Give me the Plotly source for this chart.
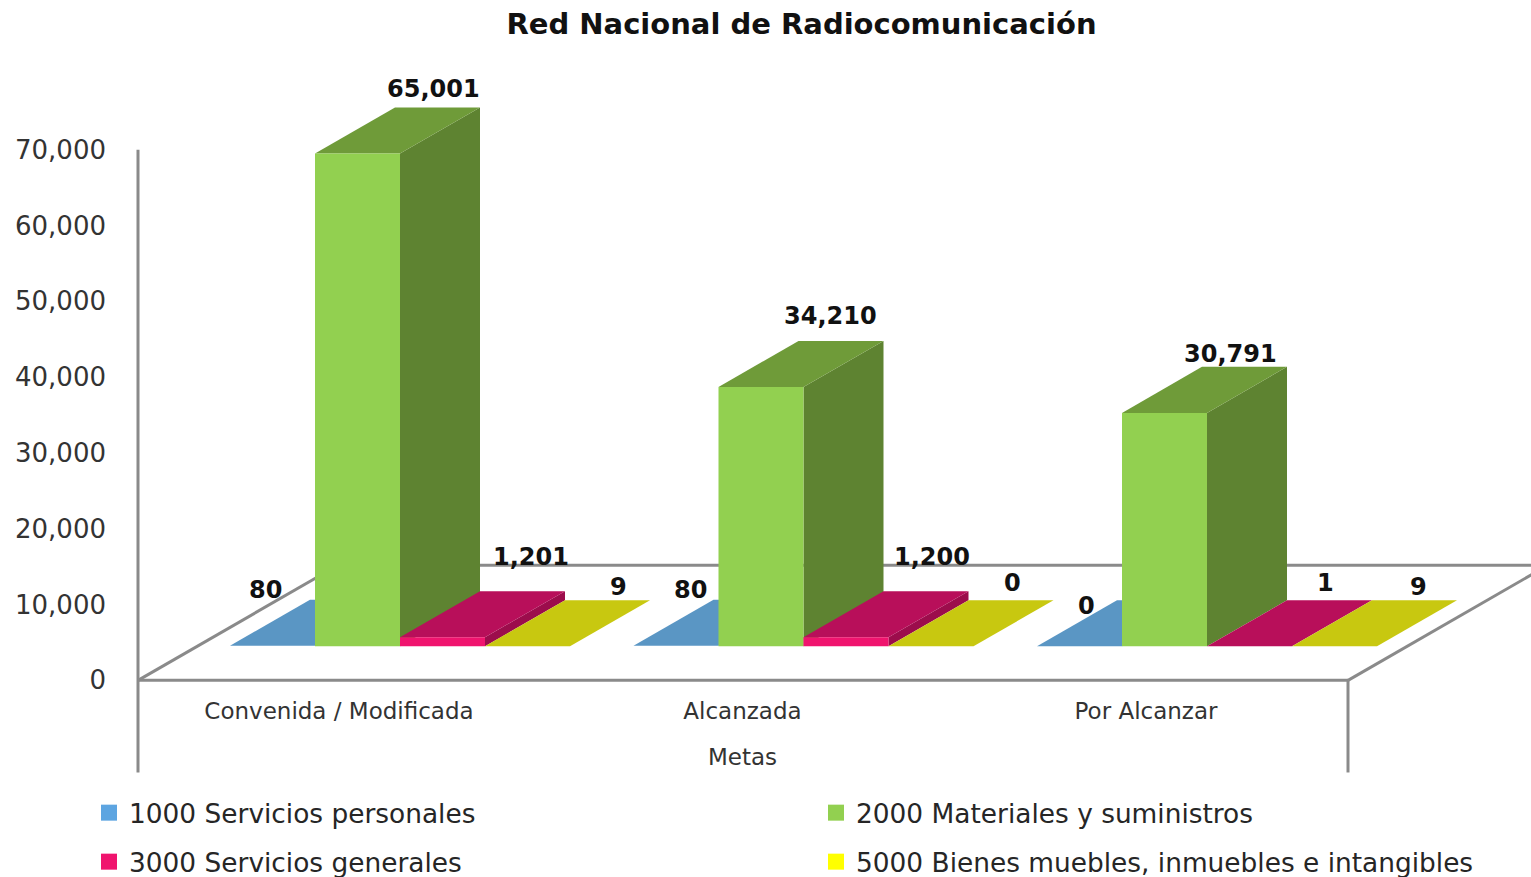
import plotly.graph_objects as go

# ---- data ----
categories = ["Convenida / Modificada", "Alcanzada", "Por Alcanzar"]
series_names = ["1000 Servicios personales", "2000 Materiales y suministros",
                "3000 Servicios generales", "5000 Bienes muebles, inmuebles e intangibles"]
servicios_personales = [80, 80, 0]
materiales = [65001, 34210, 30791]
servicios_generales = [1201, 1200, 1]
bienes_muebles = [9, 0, 9]
y_ticks = [0, 10000, 20000, 30000, 40000, 50000, 60000, 70000]

all_values = [servicios_personales, materiales, servicios_generales, bienes_muebles]

# ---- style ----
front_colors = ["#5DA5E1", "#92D050", "#F0146E", "#FFFF00"]
top_colors = ["#5A96C4", "#6F9B39", "#B80F5A", "#C8C810"]
side_colors = ["#4A7DA6", "#5E8331", "#9C0D4C", "#A8A80C"]
legend_colors = ["#5DA5E1", "#92D050", "#F0146E", "#FFFF00"]
AXIS_COLOR = "#8A8A8A"
FONT = "DejaVu Sans"
W, H = 1531, 877
MARGIN_L = 120
PLOT_H = 788  # height left for the plot area once the legends have taken their margin

# ---- layout geometry (pixels per unit and oblique projection) ----
PX_CAT = 403.5
X0_PX = 339.0
Y0_PX = 679.5
PX_PER_VALUE = 530.0 / 70000.0


def dx(px):
    return px / PX_CAT


def dy(px):
    return px / PX_PER_VALUE


x_range = [(MARGIN_L - X0_PX) / PX_CAT, (W - X0_PX) / PX_CAT]
y_range = [-(PLOT_H - Y0_PX) / PX_PER_VALUE, Y0_PX / PX_PER_VALUE]

WALL_L = (138 - X0_PX) / PX_CAT
WALL_R = (1348 - X0_PX) / PX_CAT
FLOOR_DX, FLOOR_DY = dx(200), dy(115)
BOTTOM = -dy(92)

BAR_W = dx(85)
GROUP_SHIFT = dx(61)
BASE = dy(34)
DEPTH_DX, DEPTH_DY = dx(80), dy(46)

# label offsets in pixels from the front-top centre of each bar
label_dx = [[-7.5, 14, 6.5], [75.5, 69, 65.5], [88.5, 86, 75.5], [90.5, 81, 83.5]]
label_dy = [[56, 56, 40], [65, 71, 59], [80, 80, 63], [59, 63, 59]]

fig = go.Figure()


def poly(xs, ys, color):
    fig.add_trace(go.Scatter(x=xs + xs[:1], y=ys + ys[:1], mode="lines", fill="toself",
                             fillcolor=color, line=dict(width=0), hoverinfo="skip",
                             showlegend=False))


def stroke(xs, ys):
    fig.add_trace(go.Scatter(x=xs, y=ys, mode="lines",
                             line=dict(color=AXIS_COLOR, width=3), hoverinfo="skip",
                             showlegend=False))


# structure of the 3-D box
stroke([WALL_L, WALL_L], [BOTTOM, 70000])
stroke([WALL_L, WALL_R], [0, 0])
stroke([WALL_R, WALL_R], [BOTTOM, 0])
stroke([WALL_L, WALL_L + FLOOR_DX], [0, FLOOR_DY])
stroke([WALL_R, WALL_R + FLOOR_DX], [0, FLOOR_DY])
stroke([WALL_L + FLOOR_DX, WALL_R + FLOOR_DX], [FLOOR_DY, FLOOR_DY])

# bars
annotations = []
for c in range(len(categories)):
    for s, values in enumerate(all_values):
        v = values[c]
        x1 = c + GROUP_SHIFT + (s - 2) * BAR_W
        x2 = x1 + BAR_W
        y1, y2 = BASE, BASE + v
        poly([x2, x2 + DEPTH_DX, x2 + DEPTH_DX, x2],
             [y1, y1 + DEPTH_DY, y2 + DEPTH_DY, y2], side_colors[s])
        poly([x1, x2, x2 + DEPTH_DX, x1 + DEPTH_DX],
             [y2, y2, y2 + DEPTH_DY, y2 + DEPTH_DY], top_colors[s])
        if v * PX_PER_VALUE >= 1:
            poly([x1, x2, x2, x1], [y1, y1, y2, y2], front_colors[s])
        annotations.append(dict(
            x=(x1 + x2) / 2, y=y2, xref="x", yref="y", text=f"<b>{v:,}</b>",
            showarrow=False, xanchor="center", yanchor="middle",
            xshift=label_dx[s][c], yshift=label_dy[s][c],
            font=dict(family=FONT, size=24, color="#111111")))

annotations.append(dict(x=1, y=0, xref="x", yref="y", text="Metas", showarrow=False,
                        xanchor="center", yanchor="middle", yshift=-77,
                        font=dict(family=FONT, size=23, color="#333333")))

# legend entries
for s, name in enumerate(series_names):
    fig.add_trace(go.Scatter(x=[None], y=[None], mode="markers", name=name,
                             marker=dict(symbol="square", size=17, color=legend_colors[s]),
                             legend="legend" if s == 0 else f"legend{s + 1}",
                             showlegend=True))

legend_pos = [(89, 813), (816, 813), (89, 862), (816, 862)]


def legend_cfg(px, py):
    return dict(x=(px - MARGIN_L) / (W - MARGIN_L), y=1 - py / H, xref="paper", yref="container",
                xanchor="left", yanchor="middle",
                bgcolor="rgba(0,0,0,0)", borderwidth=0,
                font=dict(family=FONT, size=26.4, color="#262626"))


fig.update_layout(
    width=W, height=H, autosize=False,
    margin=dict(l=MARGIN_L, r=0, t=0, b=0, pad=0),
    paper_bgcolor="white", plot_bgcolor="white",
    title=dict(text="<b>Red Nacional de Radiocomunicación</b>",
               x=801.5 / W, y=1 - 24 / H, xanchor="center", yanchor="middle",
               font=dict(family=FONT, size=29, color="#111111")),
    xaxis=dict(range=x_range, tickvals=[0, 1, 2], ticktext=categories, anchor="free",
               position=(PLOT_H - Y0_PX) / PLOT_H, showline=False, showgrid=False, zeroline=False,
               ticks="", ticklabelstandoff=15, tickangle=0,
               tickfont=dict(family=FONT, size=23, color="#333333")),
    yaxis=dict(range=y_range, tickvals=y_ticks, tickformat=",d", showline=False,
               showgrid=False, zeroline=False, ticks="", ticklabelstandoff=13,
               tickfont=dict(family=FONT, size=26, color="#333333")),
    annotations=annotations,
    hovermode=False,
    legend=legend_cfg(*legend_pos[0]),
    legend2=legend_cfg(*legend_pos[1]),
    legend3=legend_cfg(*legend_pos[2]),
    legend4=legend_cfg(*legend_pos[3]),
)

fig.write_html("out.html", post_script="document.body.style.margin='0';",
               config={"displayModeBar": False})
